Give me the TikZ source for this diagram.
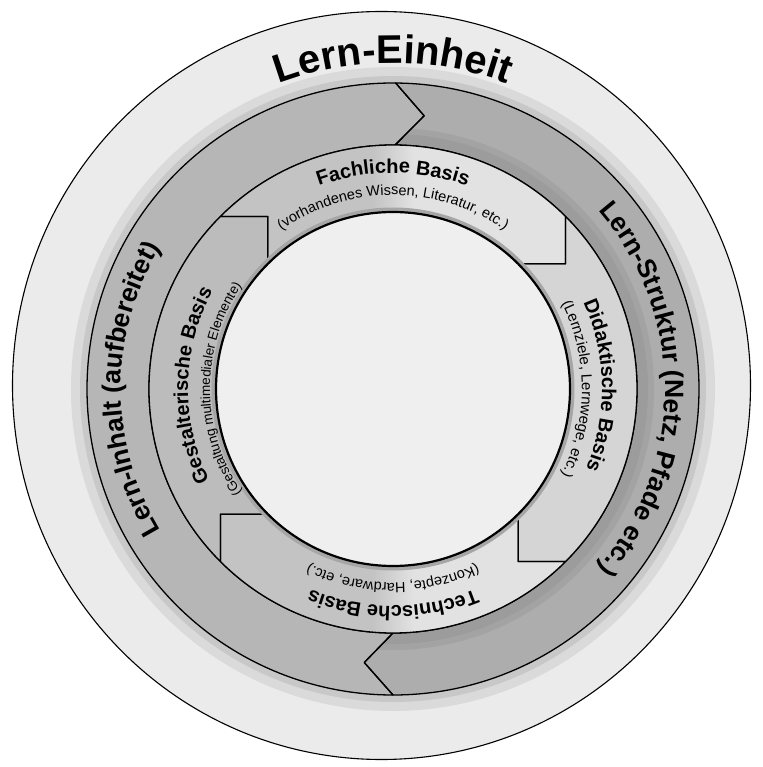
\documentclass[tikz,border=0pt]{standalone}
\usepackage{fontspec}
\setmainfont{Liberation Sans}
\usetikzlibrary{decorations.text}
\definecolor{outerbg}{HTML}{EBEBEB}
\definecolor{haloA}{HTML}{DADADA}
\definecolor{haloB}{HTML}{C8C8C8}
\definecolor{arrowL}{HTML}{B6B6B6}
\definecolor{arrowR}{HTML}{ADADAD}
\definecolor{shadowR}{HTML}{9C9C9C}
\definecolor{segdark}{HTML}{C3C3C3}
\definecolor{seglight}{HTML}{E2E2E2}
\definecolor{didac}{HTML}{D5D5D5}
\definecolor{gestc}{HTML}{BCBCBC}
\definecolor{innerc}{HTML}{EFEFEF}
\pgfdeclarehorizontalshading{halftone}{100bp}{color(0bp)=(segdark); color(47bp)=(segdark); color(53bp)=(seglight); color(100bp)=(seglight)}
\begin{document}
\begin{tikzpicture}[x=1pt,y=1pt,
  edge/.style={draw=black,line width=1.3pt,line join=round},
  larrowshape/.style={insert path={(89.5:306pt) arc[start angle=89.5,end angle=270,radius=306pt] -- (264:275pt) -- (270:244pt) arc[start angle=270,end angle=89.5,radius=244pt] -- (83.5:275pt) -- cycle}},
  rarrowshape/.style={insert path={(89.5:306pt) arc[start angle=89.5,end angle=-90,radius=306pt] -- (264:275pt) -- (-90:244pt) arc[start angle=-90,end angle=89.5,radius=244pt] -- (83.5:275pt) -- cycle}},
  fachshape/.style={insert path={(135:244pt) arc[start angle=135,end angle=45,radius=244pt] -- (172.53,125.16) -- (45:177pt) arc[start angle=45,end angle=135,radius=177pt] -- (-125.16,172.53) -- cycle}},
  didashape/.style={insert path={(45:244pt) arc[start angle=45,end angle=-45,radius=244pt] -- (125.16,-172.53) -- (-45:177pt) arc[start angle=-45,end angle=45,radius=177pt] -- (172.53,125.16) -- cycle}},
  techshape/.style={insert path={(-45:244pt) arc[start angle=-45,end angle=-135,radius=244pt] -- (-172.53,-125.16) -- (-135:177pt) arc[start angle=-135,end angle=-45,radius=177pt] -- (125.16,-172.53) -- cycle}},
  gestshape/.style={insert path={(225:244pt) arc[start angle=225,end angle=135,radius=244pt] -- (-125.16,172.53) -- (135:177pt) arc[start angle=135,end angle=225,radius=177pt] -- (-172.53,-125.16) -- cycle}}
]
\useasboundingbox (-393,-378) rectangle (369,389);
\fill[white] (-393,-378) rectangle (369,389);
% outer disc
\draw[fill=outerbg,line width=1.1pt] (-11.5,3.5) ellipse[x radius=369pt,y radius=374pt];
% halo around arrow ring
\draw[haloA,line width=18pt] (0,0) circle[radius=313pt];
\draw[haloB,line width=8pt] (0,0) circle[radius=309pt];
% arrow ring
\fill[arrowL] [larrowshape];
\fill[arrowR] [rarrowshape];
\begin{scope}
  \clip [rarrowshape];
  \draw[shadowR,line width=12pt] (0,0) circle[radius=250pt];
  \draw[shadowR!60!arrowR,line width=6pt] (0,0) circle[radius=258pt];
\end{scope}
\draw[edge] [larrowshape];
\draw[edge] [rarrowshape];
% basis ring
\shade[shading=halftone] [fachshape];
\fill[didac] [didashape];
\shade[shading=halftone] [techshape];
\fill[gestc] [gestshape];
\draw[edge] [fachshape];
\draw[edge] [didashape];
\draw[edge] [techshape];
\draw[edge] [gestshape];
% inner circle
\fill[innerc] (0,0) circle[radius=177pt];
\draw[gray!70,line width=5pt] (0,0) circle[radius=179pt];
\draw[black,line width=2.2pt] (0,0) circle[radius=177pt];
% texts
\path[decorate,decoration={text along path,text align=center,text={|\fontsize{40}{40}\selectfont\bfseries|Lern-Einheit}}] (135:326pt) arc[start angle=135,end angle=45,radius=326pt];
\path[decorate,decoration={text along path,text align=center,text={|\fontsize{26.5}{26.5}\selectfont\bfseries|Lern-Struktur (Netz, Pfade etc.)}}] (62:272pt) arc[start angle=62,end angle=-62,radius=272pt];
\path[decorate,decoration={text along path,text align=center,text={|\fontsize{26.5}{26.5}\selectfont\bfseries|Lern-Inhalt (aufbereitet)}}] (242:272pt) arc[start angle=242,end angle=118,radius=272pt];
% basis titles
\path[decorate,decoration={text along path,text align=center,text={|\fontsize{20}{20}\selectfont\bfseries|Fachliche Basis}}] (135:216pt) arc[start angle=135,end angle=45,radius=216pt];
\path[decorate,decoration={text along path,text align=center,text={|\fontsize{20}{20}\selectfont\bfseries|Didaktische Basis}}] (46:209pt) arc[start angle=46,end angle=-44,radius=209pt];
\path[decorate,decoration={text along path,text align=center,text={|\fontsize{20}{20}\selectfont\bfseries|Technische Basis}}] (315:217pt) arc[start angle=315,end angle=225,radius=217pt];
\path[decorate,decoration={text along path,text align=center,text={|\fontsize{20}{20}\selectfont\bfseries|Gestalterische Basis}}] (224:205pt) arc[start angle=224,end angle=134,radius=205pt];
% basis subtitles
\path[decorate,decoration={text along path,text align=center,text={|\fontsize{14.5}{14.5}\selectfont|(vorhandenes Wissen, Literatur, etc.)}}] (135:194pt) arc[start angle=135,end angle=45,radius=194pt];
\path[decorate,decoration={text along path,text align=center,text={|\fontsize{15}{15}\selectfont|(Lernziele, Lernwege, etc.)}}] (45:189pt) arc[start angle=45,end angle=-45,radius=189pt];
\path[decorate,decoration={text along path,text align=center,text={|\fontsize{14.5}{14.5}\selectfont|(Konzepte, Hardware, etc.)}}] (315:194pt) arc[start angle=315,end angle=225,radius=194pt];
\path[decorate,decoration={text along path,text align=center,text={|\fontsize{13.5}{13.5}\selectfont|(Gestaltung multimedialer Elemente)}}] (225:183pt) arc[start angle=225,end angle=135,radius=183pt];
\end{tikzpicture}
\end{document}
